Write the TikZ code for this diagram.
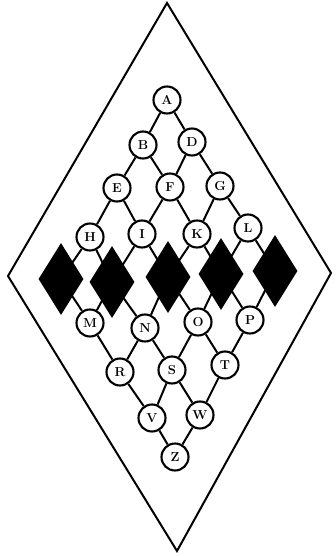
\documentclass[tikz,border=0pt]{standalone}
\usetikzlibrary{shapes.geometric}
\begin{document}
\begin{tikzpicture}[x=1pt,y=-1pt,
  lat/.style={circle,draw,line width=2.1pt,fill=white,minimum size=27pt,inner sep=0pt,font=\fontsize{13}{13}\selectfont\bfseries},
  blk/.style={diamond,fill=black,minimum width=45pt,minimum height=72pt,inner sep=0pt},
  edge/.style={line width=2pt}]
\useasboundingbox (0,0) rectangle (336,556);
\coordinate (top) at (167,3);
\coordinate (rgt) at (331,273);
\coordinate (bot) at (177,551);
\coordinate (lft) at (8,276);
\draw[line width=2pt,line join=miter] (top) -- (rgt) -- (bot) -- (lft) -- cycle;
% black diamond positions
\coordinate (d1) at (61,279);
\coordinate (d2) at (112,282);
\coordinate (d3) at (168,277);
\coordinate (d4) at (221,274);
\coordinate (d5) at (275,271);
% nodes
\node[lat] (A) at (167,100) {A};
\node[lat] (B) at (143,145) {B};
\node[lat] (D) at (192,142) {D};
\node[lat] (E) at (117,188) {E};
\node[lat] (F) at (170,187) {F};
\node[lat] (G) at (220,186) {G};
\node[lat] (H) at (90,237) {H};
\node[lat] (I) at (142,234) {I};
\node[lat] (K) at (197,234) {K};
\node[lat] (L) at (248,228) {L};
\node[lat] (M) at (90,323) {M};
\node[lat] (N) at (145,328) {N};
\node[lat] (O) at (198,322) {O};
\node[lat] (P) at (250,320) {P};
\node[lat] (R) at (120,372) {R};
\node[lat] (S) at (172,370) {S};
\node[lat] (T) at (225,365) {T};
\node[lat] (V) at (152,418) {V};
\node[lat] (W) at (200,415) {W};
\node[lat] (Z) at (175,457) {Z};
% connectors
\draw[edge] (A) -- (B) (A) -- (D) (B) -- (E) (B) -- (F) (D) -- (F) (D) -- (G)
  (E) -- (H) (E) -- (I) (F) -- (I) (F) -- (K) (G) -- (K) (G) -- (L)
  (H) -- (d1) (H) -- (d2) (I) -- (d2) (I) -- (d3) (K) -- (d3) (K) -- (d4) (L) -- (d4) (L) -- (d5)
  (M) -- (d1) (M) -- (d2) (N) -- (d2) (N) -- (d3) (O) -- (d3) (O) -- (d4) (P) -- (d4) (P) -- (d5)
  (M) -- (R) (N) -- (R) (N) -- (S) (O) -- (S) (O) -- (T) (P) -- (T)
  (R) -- (V) (S) -- (V) (S) -- (W) (T) -- (W) (V) -- (Z) (W) -- (Z);
\foreach \d in {d1,d2,d3,d4,d5} \node[blk] at (\d) {};
\end{tikzpicture}
\end{document}
